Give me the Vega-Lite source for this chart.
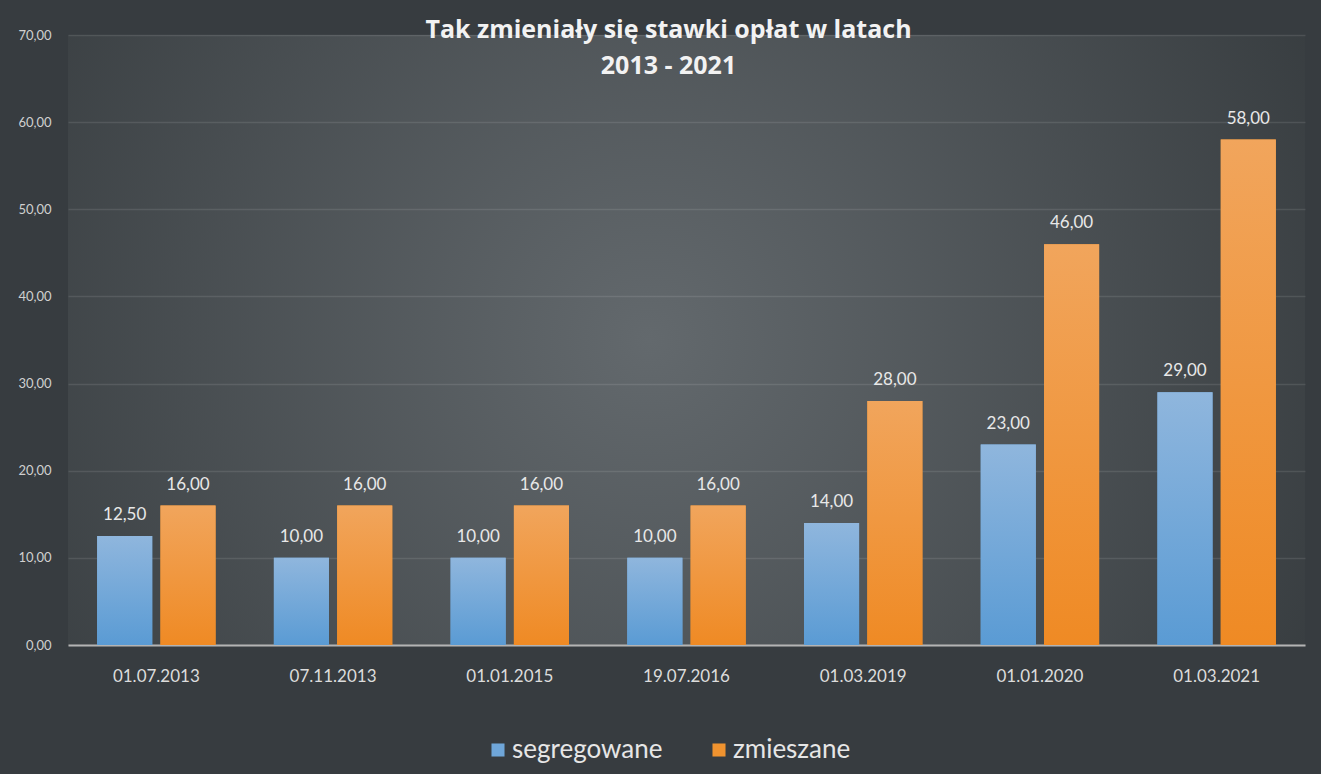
{
  "$schema": "https://vega.github.io/schema/vega-lite/v6.json",
  "width": 1237,
  "height": 610,
  "autosize": {"type": "none"},
  "padding": {"left": 68, "top": 35, "right": 16, "bottom": 129},
  "background": "#373c40",
  "view": {
    "stroke": null,
    "fill": {"expr": "{gradient: 'radial', x1: 0.47, y1: 0.5, r1: 0, x2: 0.47, y2: 0.5, r2: 0.75, stops: [{offset: 0, color: '#63696d'}, {offset: 1, color: '#2d3235'}]}"}
  },
  "title": {
    "text": ["Tak zmieniały się stawki opłat w latach", "2013 - 2021"],
    "anchor": "middle",
    "frame": "group",
    "offset": -50,
    "dx": -18,
    "fontSize": 25,
    "lineHeight": 36,
    "font": "Open Sans",
    "fontWeight": "bold",
    "color": "#f2f2f2"
  },
  "data": {
    "values": [
      {"date": "01.07.2013", "series": "segregowane", "value": 12.5},
      {"date": "01.07.2013", "series": "zmieszane", "value": 16},
      {"date": "07.11.2013", "series": "segregowane", "value": 10},
      {"date": "07.11.2013", "series": "zmieszane", "value": 16},
      {"date": "01.01.2015", "series": "segregowane", "value": 10},
      {"date": "01.01.2015", "series": "zmieszane", "value": 16},
      {"date": "19.07.2016", "series": "segregowane", "value": 10},
      {"date": "19.07.2016", "series": "zmieszane", "value": 16},
      {"date": "01.03.2019", "series": "segregowane", "value": 14},
      {"date": "01.03.2019", "series": "zmieszane", "value": 28},
      {"date": "01.01.2020", "series": "segregowane", "value": 23},
      {"date": "01.01.2020", "series": "zmieszane", "value": 46},
      {"date": "01.03.2021", "series": "segregowane", "value": 29},
      {"date": "01.03.2021", "series": "zmieszane", "value": 58}
    ]
  },
  "encoding": {
    "x": {
      "field": "date",
      "type": "nominal",
      "sort": null,
      "scale": {"paddingInner": 0.33, "paddingOuter": 0.165},
      "axis": {
        "title": null,
        "labelAngle": 0,
        "labelFontSize": 17,
        "labelFont": "Lato",
        "labelColor": "#dcdcdc",
        "labelPadding": 23,
        "ticks": false,
        "grid": false,
        "domainColor": "#b4b4b4",
        "domainWidth": 2
      }
    },
    "xOffset": {
      "field": "series",
      "type": "nominal",
      "scale": {"paddingInner": 0.13, "paddingOuter": 0}
    },
    "y": {
      "field": "value",
      "type": "quantitative",
      "scale": {"domain": [0, 70], "nice": false},
      "axis": {
        "title": null,
        "values": [0, 10, 20, 30, 40, 50, 60, 70],
        "format": ".2f",
        "labelFontSize": 13,
        "labelFont": "Lato",
        "labelColor": "#d0d0d0",
        "labelPadding": 17,
        "domain": false,
        "ticks": false,
        "gridColor": "#ffffff",
        "gridOpacity": 0.1,
        "gridWidth": 1.5
      }
    }
  },
  "layer": [
    {
      "mark": {"type": "bar"},
      "encoding": {
        "color": {
          "field": "series",
          "type": "nominal",
          "scale": {"domain": ["segregowane", "zmieszane"], "range": ["#6fa6d9", "#f0932f"]},
          "legend": {
            "title": null,
            "orient": "none",
            "direction": "horizontal",
            "legendX": 417,
            "legendY": 702,
            "symbolType": "square",
            "symbolSize": 170,
            "symbolStrokeWidth": 0,
            "symbolOpacity": 1,
            "labelFontSize": 26,
            "labelFont": "Lato",
            "labelColor": "#e6e6e6",
            "columnPadding": 43,
            "labelOffset": 1,
            "labelLimit": 300
          }
        }
      }
    },
    {
      "transform": [{"filter": "datum.series === 'segregowane'"}],
      "mark": {
        "type": "bar",
        "color": {
          "gradient": "linear", "x1": 0, "y1": 0, "x2": 0, "y2": 1,
          "stops": [{"offset": 0, "color": "#8fb6dd"}, {"offset": 1, "color": "#5a9bd4"}]
        }
      }
    },
    {
      "transform": [{"filter": "datum.series === 'zmieszane'"}],
      "mark": {
        "type": "bar",
        "color": {
          "gradient": "linear", "x1": 0, "y1": 0, "x2": 0, "y2": 1,
          "stops": [{"offset": 0, "color": "#f1a55c"}, {"offset": 1, "color": "#ef8a24"}]
        }
      }
    },
    {
      "mark": {"type": "text", "baseline": "alphabetic", "dy": -16, "fontSize": 17, "font": "Lato", "color": "#e8e8e8"},
      "encoding": {
        "text": {"field": "value", "type": "quantitative", "format": ".2f"}
      }
    }
  ],
  "config": {
    "locale": {"number": {"decimal": ",", "thousands": " ", "grouping": [3], "currency": ["", " zł"]}}
  }
}
